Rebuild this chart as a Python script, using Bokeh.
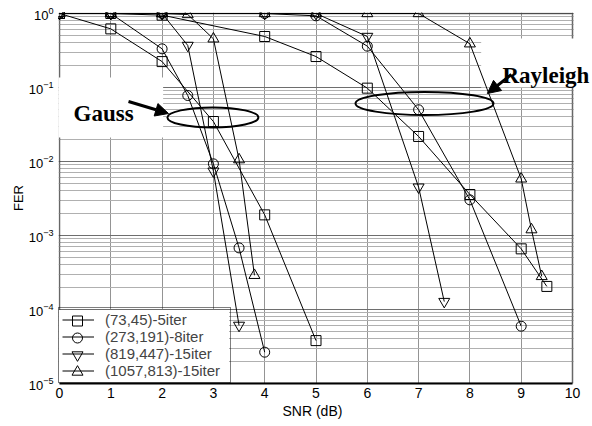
from bokeh.plotting import figure
from bokeh.models import (FixedTicker, Legend, LegendItem, BoxAnnotation, Label,
                          Arrow, NormalHead, Title)
from bokeh.embed import file_html
from bokeh.resources import INLINE

# Frame error rate versus SNR, Gauss channel
snr_g_73 = [0, 1, 2, 3, 4, 5]
fer_g_73 = [1.0, 0.62, 0.224, 0.0347, 0.0019, 3.8e-5]
snr_g_273 = [0, 1, 2, 2.5, 3, 3.5, 4]
fer_g_273 = [1.0, 1.0, 0.333, 0.078, 0.0093, 6.8e-4, 2.65e-5]
snr_g_819 = [0, 1, 2, 2.5, 3, 3.5]
fer_g_819 = [1.0, 1.0, 1.0, 0.37, 0.0074, 6.1e-5]
snr_g_1057 = [0, 1, 2, 2.5, 3, 3.5, 3.8]
fer_g_1057 = [1.0, 1.0, 1.0, 0.97, 0.455, 0.0106, 2.9e-4]

# Frame error rate versus SNR, Rayleigh channel
snr_r_73 = [0, 1, 2, 4, 5, 6, 7, 8, 9, 9.5]
fer_r_73 = [1.0, 1.0, 0.95, 0.489, 0.262, 0.098, 0.0218, 0.00358, 6.6e-4, 2.05e-4]
snr_r_273 = [0, 1, 2, 4, 5, 6, 7, 8, 9]
fer_r_273 = [1.0, 1.0, 1.0, 1.0, 0.93, 0.362, 0.050, 0.00303, 5.95e-5]
snr_r_819 = [0, 1, 2, 4, 5, 6, 7, 7.5]
fer_r_819 = [1.0, 1.0, 1.0, 1.0, 1.0, 0.489, 0.0045, 1.28e-4]
snr_r_1057 = [0, 1, 2, 4, 5, 6, 7, 8, 9, 9.2, 9.4]
fer_r_1057 = [1.0, 1.0, 1.0, 1.0, 1.0, 1.0, 1.0, 0.39, 0.00583, 0.0012, 2.8e-4]

codes = ["(73,45)-5iter", "(273,191)-8iter", "(819,447)-15iter", "(1057,813)-15iter"]
markers = ["square", "circle", "inverted_triangle", "triangle"]
marker_sizes = [10, 10, 11, 11]

x_ticks = list(range(0, 11))
decades = [1e-5, 1e-4, 1e-3, 1e-2, 1e-1, 1.0]
minor_decades = [m * d for d in decades[:-1] for m in range(2, 10)]

# geometry: SNR 0..10 spans 513 px; the frame runs on to the right edge of the
# page so the "Rayleigh" caption can reach past the plotted area
PX_PER_DB = 51.3
PX_PER_DECADE = 74.0
FRAME_LEFT, FRAME_TOP, FRAME_BOTTOM = 58, 12, 383
X_START = -1 / PX_PER_DB
X_END = 10 + 20 / PX_PER_DB
Y_END = 10 ** (1 / PX_PER_DECADE)


def px_to_x(px):
    return X_START + (px - FRAME_LEFT) / PX_PER_DB


def px_to_y(py):
    return 10 ** (-(py - FRAME_TOP - 1) / PX_PER_DECADE)


p = figure(width=592, height=426, x_range=(X_START, X_END), y_range=(1e-5, Y_END),
           y_axis_type="log", output_backend="svg", toolbar_location=None,
           min_border_left=FRAME_LEFT, min_border_right=0, min_border_top=FRAME_TOP,
           min_border_bottom=426 - FRAME_BOTTOM, background_fill_color="white",
           border_fill_color="white")
p.outline_line_color = None

# grid
p.xgrid.ticker = FixedTicker(ticks=x_ticks)
p.xgrid.grid_line_color = "#949494"
p.ygrid.ticker = FixedTicker(ticks=decades, minor_ticks=minor_decades)
p.ygrid.grid_line_color = "#6e6e6e"
p.ygrid.minor_grid_line_color = "#b0b0b0"

# axes
p.xaxis.ticker = FixedTicker(ticks=x_ticks)
p.yaxis.ticker = FixedTicker(ticks=decades)
for ax in (p.xaxis, p.yaxis):
    ax.major_tick_line_color = None
    ax.minor_tick_line_color = None
    ax.major_tick_out = 0
    ax.major_tick_in = 0
    ax.major_label_text_font = "Liberation Sans"
    ax.major_label_text_color = "black"
    ax.axis_label_text_font = "Liberation Sans"
    ax.axis_label_text_font_size = "13px"
    ax.axis_label_text_font_style = "normal"
    ax.axis_label_text_color = "black"
p.xaxis.major_label_text_font_size = "14px"
p.xaxis.axis_line_color = "black"
p.xaxis.axis_line_width = 2
p.xaxis.bounds = (0, 10)
p.xaxis.major_label_standoff = 4
p.yaxis.major_label_text_font_size = "13px"
p.yaxis.axis_line_color = None
p.yaxis.axis_label = "FER"
p.yaxis.major_label_standoff = 5
p.yaxis.axis_label_standoff = 0

p.add_layout(Title(text="SNR (dB)", align="left", offset=224, standoff=0,
                   text_font="Liberation Sans", text_font_size="14px",
                   text_font_style="normal", text_color="black"), "below")

# hide the grid beyond SNR = 10, then draw the plot border
p.add_layout(BoxAnnotation(left=10.02, fill_color="white", fill_alpha=1.0,
                           line_color=None, level="underlay"))
p.add_layout(BoxAnnotation(left=0, right=10, bottom=1e-5, top=1.0, fill_color=None,
                           line_color="black", line_width=2, level="underlay"))

# white backgrounds behind the channel captions
p.add_layout(BoxAnnotation(right=2.02, top=0.1365, bottom=0.0211,
                           fill_color="white", fill_alpha=1.0, line_color=None,
                           level="underlay"))
p.add_layout(BoxAnnotation(left=8.22, top=0.46, bottom=0.1,
                           fill_color="white", fill_alpha=1.0, line_color=None,
                           level="underlay"))

# legend layout
LEG_PAD, LEG_ROW, LEG_GLYPH_W, LEG_STANDOFF, LEG_LABEL_W = 3, 17, 32, 11, 122
leg_width = 2 * LEG_PAD + LEG_GLYPH_W + LEG_STANDOFF + LEG_LABEL_W
leg_top_px = FRAME_BOTTOM - (2 * LEG_PAD + 4 * LEG_ROW)
p.add_layout(BoxAnnotation(right=px_to_x(FRAME_LEFT + leg_width - 0.5),
                           top=px_to_y(leg_top_px + 0.5),
                           fill_color="white", fill_alpha=1.0, line_color=None,
                           level="underlay"))

# curves
gauss = [(snr_g_73, fer_g_73), (snr_g_273, fer_g_273),
         (snr_g_819, fer_g_819), (snr_g_1057, fer_g_1057)]
rayleigh = [(snr_r_73, fer_r_73), (snr_r_273, fer_r_273),
            (snr_r_819, fer_r_819), (snr_r_1057, fer_r_1057)]

items = []
for i, code in enumerate(codes):
    lines = []
    for xs, ys in (gauss[i], rayleigh[i]):
        lines.append(p.line(xs, ys, line_color="black", line_width=1))
        p.scatter(xs, ys, marker=markers[i], size=marker_sizes[i],
                  fill_color=None, line_color="black", line_width=1)
    items.append(LegendItem(label=code, renderers=[lines[0]]))

    # full-size marker on this series' legend row
    row_px = leg_top_px + LEG_PAD + LEG_ROW * (i + 0.5)
    p.scatter([px_to_x(FRAME_LEFT + LEG_PAD + LEG_GLYPH_W / 2)], [px_to_y(row_px)],
              marker=markers[i], size=marker_sizes[i], fill_color="white",
              line_color="black", line_width=1)

legend = Legend(items=items, location="bottom_left", margin=0, padding=LEG_PAD,
                spacing=0, glyph_width=LEG_GLYPH_W, glyph_height=LEG_ROW,
                label_height=LEG_ROW, label_width=LEG_LABEL_W,
                label_standoff=LEG_STANDOFF, label_text_font="Liberation Sans",
                label_text_font_size="15px", border_line_color="black",
                border_line_width=1, background_fill_alpha=0.0)
p.add_layout(legend)

# channel groupings
p.ellipse(x=[2.99], y=[0.0394], width=91, height=20, width_units="screen",
          height_units="screen", fill_color=None, line_color="black", line_width=2)
p.ellipse(x=[7.115], y=[0.0608], width=138, height=23, width_units="screen",
          height_units="screen", fill_color=None, line_color="black", line_width=2)

p.add_layout(Arrow(end=NormalHead(size=13, fill_color="black", line_color="black"),
                   x_start=1.345, y_start=0.0647, x_end=2.125, y_end=0.0445,
                   line_width=3, line_color="black"))
p.add_layout(Arrow(end=NormalHead(size=13, fill_color="black", line_color="black"),
                   x_start=8.81, y_start=0.150, x_end=8.34, y_end=0.083,
                   line_width=3, line_color="black"))

p.add_layout(Label(x=0.273, y=0.0445, text="Gauss", text_font="Liberation Serif",
                   text_font_style="bold", text_font_size="23px",
                   text_baseline="alphabetic", text_color="black"))
p.add_layout(Label(x=8.635, y=0.145, text="Rayleigh", text_font="Liberation Serif",
                   text_font_style="bold", text_font_size="23px",
                   text_baseline="alphabetic", text_color="black"))

open("out.html", "w").write(file_html(p, INLINE))
